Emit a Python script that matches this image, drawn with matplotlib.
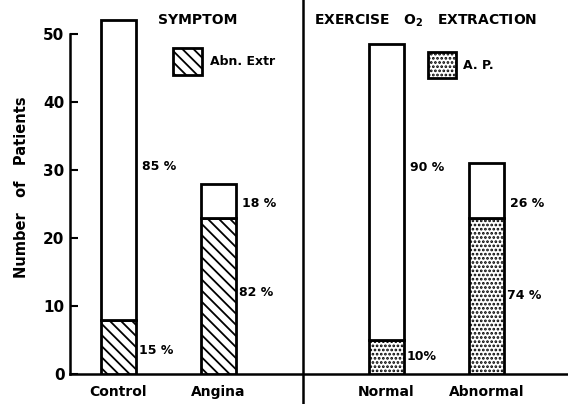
import matplotlib
matplotlib.use("Agg")
import matplotlib.pyplot as plt
from matplotlib.patches import Rectangle

categories = ["Control", "Angina", "Normal", "Abnormal"]
totals = [52, 28, 48.5, 31]
lower = [8, 23, 5, 23]
lower_pct = ["15 %", "82 %", "10%", "74 %"]
upper_pct = ["85 %", "18 %", "90 %", "26 %"]
group_titles = ["SYMPTOM", "EXERCISE   O$_2$   EXTRACTION"]
legend_labels = ["Abn. Extr", "A. P."]
yticks = [0, 10, 20, 30, 40, 50]

plt.rcParams['hatch.linewidth'] = 1.3
plt.rcParams['font.family'] = ['DejaVu Sans']
plt.rcParams['font.weight'] = 'bold'

fig = plt.figure(figsize=(5.68, 4.04), dpi=100)
ax = fig.add_axes([70/568, 30/404, 498/568, 374/404])

pos = [0, 1, 2.68, 3.68]
width = 0.35
hatches = ["\\\\\\", "\\\\\\", "....", "...."]
for i in range(4):
    ax.bar(pos[i], lower[i], width, color="white", edgecolor="black",
           hatch=hatches[i], linewidth=2, zorder=3)
    ax.bar(pos[i], totals[i] - lower[i], width, bottom=lower[i], color="white",
           edgecolor="black", linewidth=2, zorder=3)

# percentage labels
up_y = [30.5, 25.1, 30.4, 25.1]
lo_y = [3.5, 12.0, 2.5, 11.5]
for i in range(4):
    ax.text(pos[i] + width/2 + 0.06, up_y[i], upper_pct[i], fontsize=9,
            fontweight='bold', va='center', ha='left')
    ax.text(pos[i] + width/2 + 0.03, lo_y[i], lower_pct[i], fontsize=9,
            fontweight='bold', va='center', ha='left')

ax.set_xlim(-0.485, 4.495)
ax.set_ylim(0, 55)
ax.set_yticks(yticks)
ax.tick_params(axis='y', direction='in', length=6, width=1.5, labelsize=11, pad=4)
ax.set_xticks(pos)
ax.set_xticklabels(categories, fontsize=10, fontweight='bold')
ax.tick_params(axis='x', length=0, pad=8)
for s in ['top', 'right']:
    ax.spines[s].set_visible(False)
ax.spines['left'].set_linewidth(1.8)
ax.spines['left'].set_bounds(0, 50)
ax.spines['bottom'].set_linewidth(1.8)
ax.set_ylabel("Number   of   Patients", fontsize=10.5, fontweight='bold', labelpad=10)

# divider
ax.plot([1.845, 1.845], [-4.5, 55], color='black', linewidth=1.8, clip_on=False)

# titles
ax.text(0.79, 52.0, group_titles[0], fontsize=10, fontweight='bold', ha='center', va='center')
ax.text(1.95, 52.0, group_titles[1], fontsize=10, fontweight='bold', ha='left', va='center')

# legends
ax.add_patch(Rectangle((0.545, 43.9), 0.29, 4.0, facecolor='white', edgecolor='black',
                       hatch="\\\\\\", linewidth=2, zorder=3))
ax.text(0.91, 45.9, legend_labels[0], fontsize=9, fontweight='bold', va='center')
ax.add_patch(Rectangle((3.1, 43.5), 0.28, 3.8, facecolor='white', edgecolor='black',
                       hatch="....", linewidth=2, zorder=3))
ax.text(3.45, 45.4, legend_labels[1], fontsize=9, fontweight='bold', va='center')

fig.savefig("out.png", dpi=100)
